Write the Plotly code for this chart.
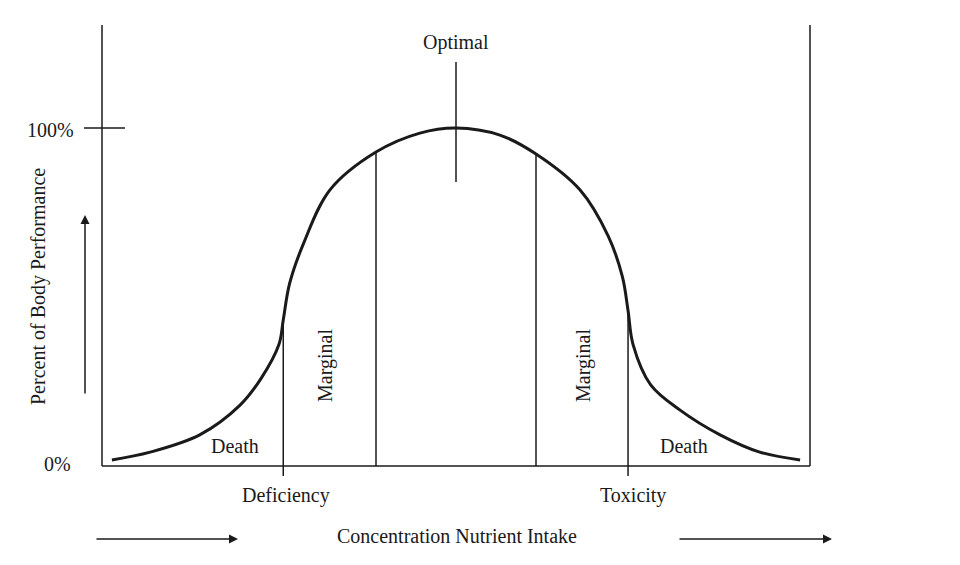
import plotly.graph_objects as go

# nutrient intake (0-100 across the axis) and body performance (%)
intake = [1.4, 6.8, 13.8, 19.5, 22.5, 25.0, 25.6, 26.5, 28.5, 32.2, 38.7, 44.9, 50.0,
          56.2, 61.3, 67.5, 71.5, 73.5, 74.3, 75.0, 77.5, 81.6, 87.3, 92.9, 98.6]
performance = [1.8, 4.1, 9.2, 18.0, 26.0, 36.0, 43.2, 54.0, 66.0, 81.7, 92.9, 98.5, 100.0,
               97.9, 92.3, 81.7, 68.0, 56.0, 46.0, 36.0, 24.0, 16.6, 9.2, 4.1, 1.8]
deficiency_x, marginal_left_x, optimal_x, marginal_right_x, toxicity_x = 25.6, 38.7, 50.0, 61.3, 74.3
deficiency_top, marginal_left_top, marginal_right_top, toxicity_top = 43.2, 92.9, 92.3, 47.0

# screenshot pixel -> data helpers (the page draws the figure from an 8px offset)
def X(px):
    return (px - 102) / 7.08

def Y(py):
    return (466 - py) / 3.38

BLACK = "#1a1a1a"
FONT = dict(family="Liberation Serif, DejaVu Serif, serif", size=20, color=BLACK)

fig = go.Figure()
fig.add_trace(go.Scatter(x=intake, y=performance, mode="lines",
                         line=dict(color=BLACK, width=3, shape="spline", smoothing=1.0),
                         hoverinfo="skip", showlegend=False))

def seg(x0, y0, x1, y1, w=1.5):
    fig.add_shape(type="line", x0=x0, y0=y0, x1=x1, y1=y1, line=dict(color=BLACK, width=w))

# frame
seg(X(102), Y(25), X(102), 0)
seg(X(102), 0, X(810), 0)
seg(X(810), 0, X(810), Y(25))
seg(X(84), 100, X(125), 100)
# zone lines
seg(deficiency_x, Y(476), deficiency_x, deficiency_top)
seg(marginal_left_x, 0, marginal_left_x, marginal_left_top)
seg(marginal_right_x, 0, marginal_right_x, marginal_right_top)
seg(toxicity_x, Y(476), toxicity_x, toxicity_top)
seg(optimal_x, Y(62), optimal_x, Y(182))

def arrow(x0, y0, x1, y1):
    fig.add_annotation(x=x1, y=y1, ax=x0, ay=y0, xref="x", yref="y", axref="x", ayref="y",
                       text="", showarrow=True, arrowhead=2, arrowsize=1.2,
                       arrowwidth=1.5, arrowcolor=BLACK)

arrow(X(85), Y(395), X(85), Y(215))
arrow(X(95), Y(539), X(238), Y(539))
arrow(X(678), Y(539), X(832), Y(539))

def label(px, py, text, angle=0):
    fig.add_annotation(x=X(px), y=Y(py), text=text, showarrow=False, textangle=angle, font=FONT)

label(456, 42, "Optimal")
label(50, 130, "100%")
label(57, 464, "0%")
label(235, 446, "Death")
label(684, 446, "Death")
label(325, 366, "Marginal", -90)
label(583, 366, "Marginal", -90)
label(286, 495, "Deficiency")
label(633, 495, "Toxicity")
label(457, 536, "Concentration Nutrient Intake")
label(38, 287, "Percent of Body Performance", -90)

fig.update_layout(
    width=952, height=557,
    margin=dict(l=0, r=0, t=0, b=0),
    paper_bgcolor="white", plot_bgcolor="white",
    xaxis=dict(range=[X(8), X(960)], visible=False, fixedrange=True),
    yaxis=dict(range=[Y(565), Y(8)], visible=False, fixedrange=True),
)
fig.write_html("out.html")
